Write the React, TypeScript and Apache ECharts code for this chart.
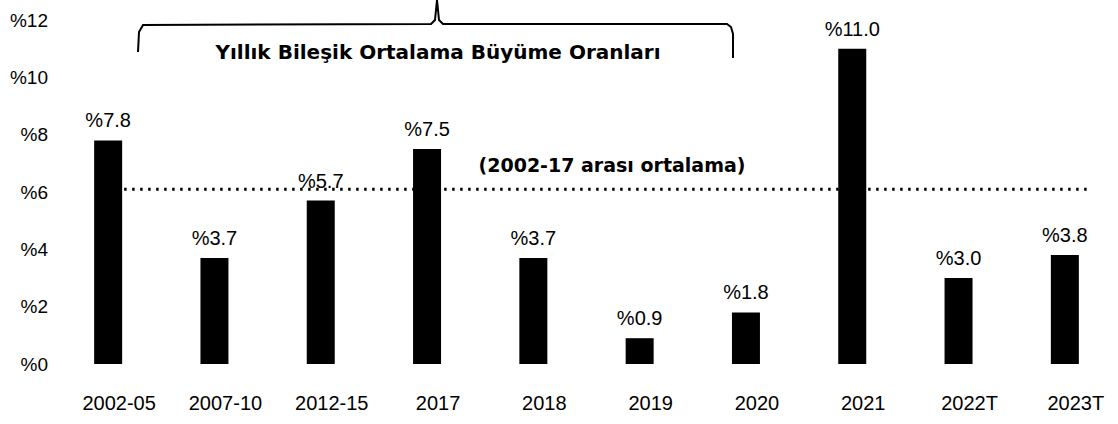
import React, { useEffect, useRef } from "react";
import * as echarts from "echarts";

const categories = ["2002-05", "2007-10", "2012-15", "2017", "2018", "2019", "2020", "2021", "2022T", "2023T"];
const growth = [7.8, 3.7, 5.7, 7.5, 3.7, 0.9, 1.8, 11.0, 3.0, 3.8];
const yMin = 0;
const yMax = 12;
const yStep = 2;
const averageValue = 6.1;
const averageFrom = 0.5;
const averageTo = 9.75;
const braceTitle = "Yıllık Bileşik Ortalama Büyüme Oranları";
const averageTitle = "(2002-17 arası ortalama)";

const REG = "'Liberation Sans', Arial, sans-serif";
const BOLD = "'DejaVu Sans', Verdana, sans-serif";

export default function App() {
  const ref = useRef<HTMLDivElement>(null);
  useEffect(() => {
    if (!ref.current) return;
    const chart = echarts.init(ref.current, null, { renderer: "svg" });
    chart.setOption({
      animation: false,
      backgroundColor: "#ffffff",
      grid: { left: 55, right: 0, top: 20, bottom: 60, containLabel: false },
      xAxis: [
        {
          type: "category",
          data: categories,
          axisLine: { show: false },
          axisTick: { show: false },
          axisLabel: {
            color: "#000",
            fontSize: 20,
            fontFamily: REG,
            margin: 29,
            padding: [0, 0, 0, 22],
          },
        },
        {
          type: "value",
          min: 0,
          max: categories.length,
          show: false,
          position: "bottom",
        },
      ],
      yAxis: {
        type: "value",
        min: yMin,
        max: yMax,
        interval: yStep,
        axisLine: { show: false },
        axisTick: { show: false },
        splitLine: { show: false },
        axisLabel: {
          color: "#000",
          fontSize: 19,
          fontFamily: REG,
          margin: 7,
          formatter: (v: number) => "%" + v,
        },
      },
      series: [
        {
          type: "line",
          xAxisIndex: 1,
          data: [
            [averageFrom, averageValue],
            [averageTo, averageValue],
          ],
          symbol: "none",
          z: 1,
          lineStyle: { color: "#000", width: 3, type: [2.5, 5.5] },
        },
        {
          type: "bar",
          xAxisIndex: 0,
          data: growth,
          barWidth: 28,
          z: 3,
          itemStyle: { color: "#000" },
          label: {
            show: true,
            position: "top",
            distance: 10,
            color: "#000",
            fontSize: 20,
            fontFamily: REG,
            formatter: (p: any) => "%" + Number(p.value).toFixed(1),
          },
        },
      ],
      graphic: [
        {
          type: "polyline",
          shape: {
            points: [
              [138, 52],
              [139, 32],
              [143, 25],
              [431, 24],
              [435, 20],
              [437, 0],
              [439, 20],
              [443, 24],
              [727, 24],
              [731, 27],
              [733, 34],
              [733, 58],
            ],
          },
          style: { stroke: "#000", lineWidth: 2, fill: "none" },
        },
        {
          type: "text",
          x: 438,
          y: 52,
          style: {
            text: braceTitle,
            fill: "#000",
            font: `bold 20px ${BOLD}`,
            textAlign: "center",
            textVerticalAlign: "middle",
          },
        },
        {
          type: "text",
          x: 612,
          y: 165,
          style: {
            text: averageTitle,
            fill: "#000",
            font: `bold 19px ${BOLD}`,
            textAlign: "center",
            textVerticalAlign: "middle",
          },
        },
      ],
    });
    return () => chart.dispose();
  }, []);
  return (
    <div
      ref={ref}
      style={{ position: "absolute", left: 0, top: 0, width: 1118, height: 424, background: "#fff" }}
    />
  );
}
